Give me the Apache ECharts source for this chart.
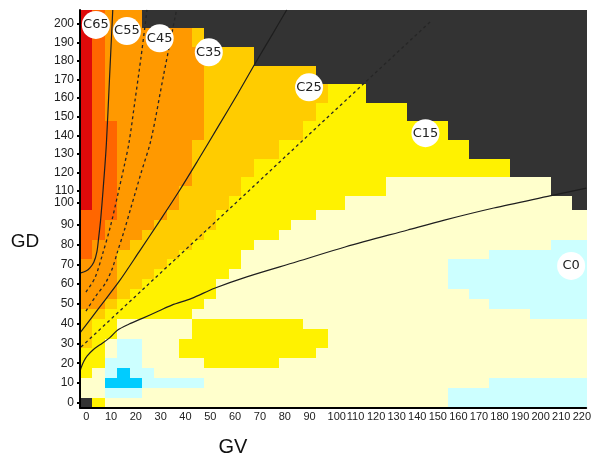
<!DOCTYPE html>
<html>
<head>
<meta charset="utf-8">
<script src="https://cdn.jsdelivr.net/npm/echarts@6/dist/echarts.min.js"></script>
<style>
  html, body { margin: 0; padding: 0; background: #fff; }
  #main { width: 594px; height: 460px; }
</style>
</head>
<body>
<div id="main"></div>
<script>
// grid columns (GV) and rows (GD, top to bottom)
var gvCols = [0, 5, 10, 15, 20, 25, 30, 35, 40, 45, 50, 55, 60, 65, 70, 75, 80, 85, 90, 95,
  100, 110, 120, 130, 140, 150, 160, 170, 180, 190, 200, 210, 220];
var gdRows = [205, 200, 195, 190, 185, 180, 175, 170, 165, 160, 155, 150, 145, 140, 135, 130, 125, 120, 115, 110,
  100, 95, 90, 85, 80, 75, 70, 65, 60, 55, 50, 45, 40, 35, 30, 25, 20, 15, 10, 5, 0];

// zone of every cell, one run-length row per GD (same order as gdRows)
var zoneRows = [
  'R O A3 K28',
  'R O A3 K28',
  'R O A7 G K23',
  'R O A7 G K23',
  'R O A8 G4 K19',
  'R O A8 G4 K19',
  'R O A8 G9 K14',
  'R O A8 G9 K14',
  'R O A8 G10 Y2 K11',
  'R O A8 G10 Y2 K11',
  'R O A8 G9 Y5 K9',
  'R O A8 G9 Y5 K9',
  'R O2 A7 G8 Y8 K7',
  'R O2 A7 G8 Y8 K7',
  'R O2 A6 G7 Y11 K6',
  'R O2 A6 G7 Y11 K6',
  'R O2 A6 G5 Y15 K4',
  'R O2 A6 G5 Y15 K4',
  'R O2 A6 G4 Y10 W8 K2',
  'R O2 A5 G5 Y10 W8 K2',
  'R O2 A5 G4 Y9 W11 K',
  'O3 A4 G4 Y8 W14',
  'O2 A4 G5 Y6 W16',
  'O2 A3 G5 Y6 W17',
  'O A3 G5 Y5 W17 L2',
  'O A2 G5 Y5 W15 L5',
  'A3 G4 Y6 W13 L7',
  'A3 G3 Y6 W14 L7',
  'A3 G2 Y6 W15 L7',
  'A3 G Y7 W16 L6',
  'A2 G Y7 W18 L5',
  'G2 Y7 W21 L3',
  'G Y2 W6 Y9 W15',
  'G Y2 W6 Y11 W13',
  'G Y W L2 W3 Y12 W13',
  'Y2 W L2 W3 Y11 W14',
  'Y2 L3 W5 Y6 W17',
  'Y W L B L2 W27',
  'W2 B3 L5 W18 L5',
  'W2 L3 W21 L7',
  'K Y W24 L7'
];
var zoneColors = {
  K: '#333333', R: '#de0a0a', O: '#ff6600', A: '#ff9900', G: '#ffcc00',
  Y: '#fff200', W: '#ffffcc', L: '#ccffff', B: '#00ccff'
};

var gvLabels = [0, 10, 20, 30, 40, 50, 60, 70, 80, 90, 100, 110, 120, 130, 140, 150, 160, 170, 180, 190, 200, 210, 220];
var gdLabels = [0, 10, 20, 30, 40, 50, 60, 70, 80, 90, 100, 110, 120, 130, 140, 150, 160, 170, 180, 190, 200];

// curves
var c65GV = [0, 2.4, 4.0, 5.6, 6.8, 7.5, 8.3, 9.3, 10.6, 11.9, 13.2];
var c65GD = [68.1, 69.1, 70.7, 73.7, 78.8, 85.8, 94.9, 113.1, 137.3, 173.3, 209.9];
var c55GV = [2.4, 6.0, 9.1, 12.3, 15.1, 17.9, 19.8, 22.2, 24.6, 27.0];
var c55GD = [58.5, 65.6, 77.7, 91.9, 109.8, 126.5, 138.9, 161.5, 184.6, 209.9];
var c45GV = [2.4, 6.4, 10.3, 13.1, 15.1, 17.9, 20.6, 24.6, 28.6, 33.7, 38.9];
var c45GD = [48.9, 56.5, 63.1, 70.7, 78.8, 89.9, 102.1, 122.2, 140.0, 175.0, 209.9];
var c35GV = [0, 7.9, 15.9, 23.8, 31.8, 39.7, 47.6, 55.6, 63.5, 70.2, 77.4, 83.3];
var c35GD = [37.8, 50.9, 64.1, 78.8, 93.9, 112.0, 129.2, 147.0, 164.7, 180.3, 196.5, 209.9];
var c25GV = [0.4, 59.7, 65.9, 100, 110, 152];
var c25GD = [30.7, 100, 110, 152.5, 161.0, 204.2];
var c0GV = [0, 0.4, 1.6, 2.9, 5.2, 7.9, 11.9, 15.2, 19.8, 25.1, 31.7, 37.0, 45.0, 54.2, 67.5, 87.3,
  110.3, 140.4, 158.2, 182.2, 210, 227.2];
var c0GD = [18.2, 20.1, 23.6, 26.2, 29.2, 31.7, 35.3, 39.3, 42.3, 45.2, 48.9, 51.9, 55.3, 60.4, 66.3, 73.8,
  81.4, 89.9, 94.9, 101.4, 110, 114.1];

var zoneNames = ['C65', 'C55', 'C45', 'C35', 'C25', 'C15', 'C0'];
var zoneNameGV = [6.4, 18.9, 32.1, 51.9, 92.3, 149, 219.8];
var zoneNameGD = [201.8, 198.5, 194.6, 187.1, 168.3, 143.6, 71.7];

// the plot has uneven column / row widths: piecewise linear axis scales
var xKnots = [[0, 0], [100, 100], [110, 106.87], [230, 206.35]];
var yKnots = [[0, 0], [100, 100], [110, 107.23], [210, 201.3]];

function warp(knots, v) {
  for (var i = 1; i < knots.length; i++) {
    if (v <= knots[i][0] || i === knots.length - 1) {
      var a = knots[i - 1], b = knots[i];
      return a[1] + (v - a[0]) * (b[1] - a[1]) / (b[0] - a[0]);
    }
  }
}
function wx(v) { return warp(xKnots, v); }
function wy(v) { return warp(yKnots, v); }

function colEnd(c) { return c + 1 < gvCols.length ? gvCols[c + 1] : gvCols[c] + 10; }
function rowEnd(r) { return r > 0 ? gdRows[r - 1] : gdRows[r] + 5; }

var cells = [];
zoneRows.forEach(function (row, r) {
  var codes = '';
  row.split(' ').forEach(function (tok) {
    var n = tok.length > 1 ? parseInt(tok.slice(1), 10) : 1;
    for (var k = 0; k < n; k++) codes += tok[0];
  });
  if (codes.length !== gvCols.length) throw new Error('row ' + r + ' has ' + codes.length + ' cells');
  for (var c = 0; c < codes.length; c++) {
    cells.push({
      value: [wx(gvCols[c]), wx(colEnd(c)), wy(gdRows[r]), wy(rowEnd(r))],
      zone: codes[c]
    });
  }
});

var xLabelPos = gvLabels.map(function (g) {
  var c = gvCols.indexOf(g);
  return (wx(gvCols[c]) + wx(colEnd(c))) / 2;
});
var yLabelPos = gdLabels.map(function (g) {
  var r = gdRows.indexOf(g);
  return (wy(gdRows[r]) + wy(rowEnd(r))) / 2;
});
function nearestLabel(pos, labels, v) {
  var best = 0;
  for (var i = 1; i < pos.length; i++) {
    if (Math.abs(pos[i] - v) < Math.abs(pos[best] - v)) best = i;
  }
  return String(labels[best]);
}

function curve(gv, gd) {
  return gv.map(function (g, i) { return [wx(g), wy(gd[i])]; });
}
function lineSeries(gv, gd, dashed) {
  return {
    type: 'line',
    data: curve(gv, gd),
    showSymbol: false,
    smooth: dashed === 'straight' ? false : 0.3,
    silent: true,
    z: 3,
    lineStyle: dashed ? { color: '#262626', width: 1.3, type: [3, 3] } : { color: '#1e1e1e', width: 1.2 }
  };
}

var myChart = echarts.init(document.getElementById('main'));
myChart.setOption({
  animation: false,
  backgroundColor: '#fff',
  grid: { left: 80, right: 0, top: 10, bottom: 52.3 },
  xAxis: {
    type: 'value',
    min: 0,
    max: 203.97,
    z: 10,
    axisLine: { onZero: false, lineStyle: { color: '#000', width: 2 } },
    axisTick: { show: false },
    splitLine: { show: false },
    axisLabel: {
      customValues: xLabelPos,
      formatter: function (v) { return nearestLabel(xLabelPos, gvLabels, v); },
      color: '#222',
      fontSize: 11,
      fontFamily: 'Liberation Sans',
      margin: 4
    }
  },
  yAxis: {
    type: 'value',
    min: 0,
    max: 201.16,
    z: 10,
    axisLine: { onZero: false, lineStyle: { color: '#000', width: 2 } },
    axisTick: { show: true, customValues: yLabelPos, length: 3, lineStyle: { color: '#000', width: 2 } },
    splitLine: { show: false },
    axisLabel: {
      customValues: yLabelPos,
      formatter: function (v) { return nearestLabel(yLabelPos, gdLabels, v); },
      color: '#222',
      fontSize: 12,
      fontFamily: 'Liberation Sans',
      margin: 6
    }
  },
  graphic: [
    { type: 'text', x: 25, y: 242, style: { text: 'GD', align: 'center', verticalAlign: 'middle', fontSize: 19, fontFamily: 'Liberation Sans', fill: '#111' } },
    { type: 'text', x: 233, y: 447, style: { text: 'GV', align: 'center', verticalAlign: 'middle', fontSize: 20, fontFamily: 'Liberation Sans', fill: '#111' } }
  ],
  series: [
    {
      type: 'custom',
      clip: true,
      silent: true,
      z: 1,
      encode: { x: [0, 1], y: [2, 3] },
      data: cells,
      renderItem: function (params, api) {
        var p0 = api.coord([api.value(0), api.value(2)]);
        var p1 = api.coord([api.value(1), api.value(3)]);
        // snap to whole pixels so neighbouring cells meet without seams
        var x0 = Math.round(p0[0]), x1 = Math.round(p1[0]);
        var yb = Math.round(p0[1]), yt = Math.round(p1[1]);
        return {
          type: 'rect',
          shape: { x: x0, y: yt, width: x1 - x0, height: yb - yt },
          style: { fill: zoneColors[cells[params.dataIndex].zone] }
        };
      }
    },
    lineSeries(c65GV, c65GD, false),
    lineSeries(c55GV, c55GD, true),
    lineSeries(c45GV, c45GD, true),
    lineSeries(c35GV, c35GD, false),
    lineSeries(c25GV, c25GD, 'straight'),
    lineSeries(c0GV, c0GD, false),
    {
      type: 'scatter',
      silent: true,
      z: 5,
      symbol: 'circle',
      symbolSize: 28,
      itemStyle: { color: '#fff', opacity: 1 },
      label: {
        show: true,
        position: 'inside',
        formatter: function (p) { return p.name; },
        color: '#222',
        fontSize: 13,
        fontFamily: 'DejaVu Sans'
      },
      data: zoneNames.map(function (n, i) {
        return { name: n, value: [wx(zoneNameGV[i]), wy(zoneNameGD[i])] };
      })
    }
  ]
});
window.onresize = myChart.resize;
</script>
</body>
</html>
